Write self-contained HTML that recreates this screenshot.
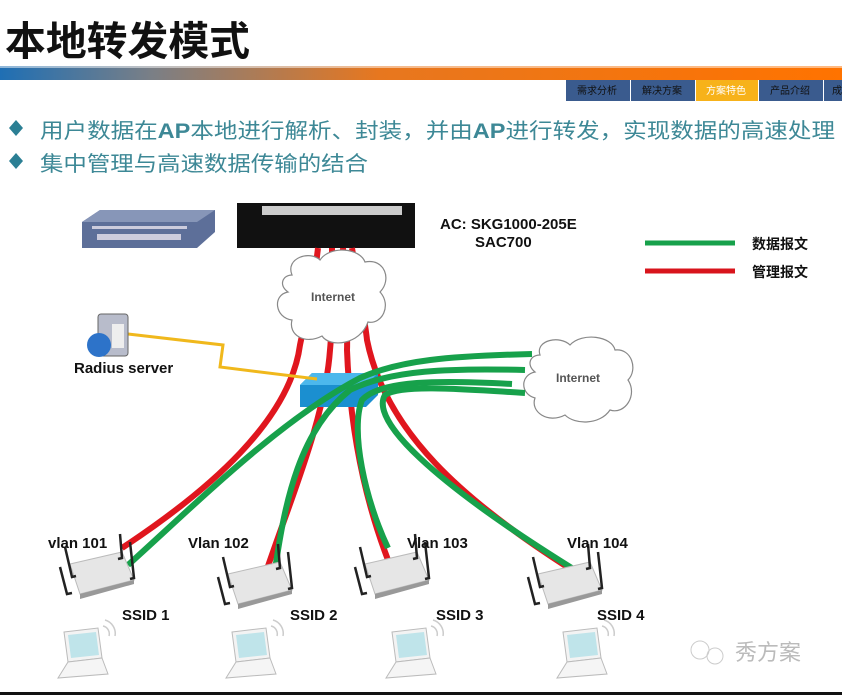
<!DOCTYPE html>
<html><head><meta charset="utf-8"><style>
body{margin:0;width:842px;height:695px;overflow:hidden;background:#fff;font-family:"Liberation Sans","Noto Sans CJK SC",sans-serif}
</style></head><body>
<svg width="842" height="695" viewBox="0 0 842 695" xmlns="http://www.w3.org/2000/svg" font-family="Liberation Sans, Noto Sans CJK SC, sans-serif">
<defs>
<linearGradient id="bar" x1="0" x2="1"><stop offset="0" stop-color="#1f6fb4"/><stop offset="0.18" stop-color="#7a7f86"/><stop offset="0.45" stop-color="#e7771f"/><stop offset="1" stop-color="#ff7300"/></linearGradient>
<g id="ap">
<path d="M-30,-8 L22,-20 L34,8 L-20,22 Z" fill="#e6e6e6" stroke="#bbb"/>
<path d="M-20,22 L34,8 L34,12 L-20,27 Z" fill="#999"/>
<path d="M-35,-25 L-28,5 L-24,4 M-40,-5 L-33,22 L-28,21 M20,-38 L22,-14 L18,-13 M30,-30 L34,6 L30,7" stroke="#222" stroke-width="2.5" fill="none"/>
</g>
<g id="lap">
<path d="M8,0 L42,-4 L46,26 L12,30 Z" fill="#f3f3f3" stroke="#bbb"/>
<path d="M12,3 L40,0 L43,23 L15,26 Z" fill="#bfe4ea"/>
<path d="M12,30 L46,26 L52,42 L2,46 Z" fill="#f5f5f5" stroke="#bbb"/>
<path d="M47,-6 A8,8 0 0 1 53,4 M49,-12 A14,14 0 0 1 59,4" stroke="#ccc" stroke-width="1.5" fill="none"/>
</g>
</defs>
<text x="5" y="55" font-size="40" font-weight="bold" fill="#111" textLength="245" lengthAdjust="spacingAndGlyphs">本地转发模式</text>
<rect x="0" y="66" width="842" height="14" fill="url(#bar)"/>
<rect x="0" y="66" width="842" height="2" fill="#fff" opacity="0.5"/>
<g font-size="10" fill="#fff">
<rect x="566" y="80" width="64" height="21" fill="#3a5b8e"/><text x="577" y="94" fill="#111">需求分析</text>
<rect x="631" y="80" width="64" height="21" fill="#3a5b8e"/><text x="642" y="94" fill="#111">解决方案</text>
<rect x="696" y="80" width="62" height="21" fill="#f7b21a"/><text x="706" y="94">方案特色</text>
<rect x="759" y="80" width="64" height="21" fill="#3a5b8e"/><text x="770" y="94" fill="#111">产品介绍</text>
<rect x="824" y="80" width="18" height="21" fill="#3a5b8e"/><text x="832" y="94" fill="#111">成</text>
</g>
<g font-size="21" fill="#3d8896">
<path d="M16,120 L23,128 L16,136 L9,128 Z" fill="#2b7f94"/>
<text x="40" y="138" textLength="795" lengthAdjust="spacingAndGlyphs">用户数据在<tspan font-weight="bold">AP</tspan>本地进行解析、封装，并由<tspan font-weight="bold">AP</tspan>进行转发，实现数据的高速处理</text>
<path d="M16,153 L23,161 L16,169 L9,161 Z" fill="#2b7f94"/>
<text x="40" y="171" textLength="328" lengthAdjust="spacingAndGlyphs">集中管理与高速数据传输的结合</text>
</g>
<path d="M82,222 L100,210 L215,210 L215,232 L197,248 L82,248 Z" fill="#5d6f99"/>
<path d="M82,222 L100,210 L215,210 L197,222 Z" fill="#8796b8"/>
<rect x="92" y="226" width="95" height="3" fill="#ccd"/><rect x="97" y="234" width="84" height="6" fill="#ccd"/>
<rect x="237" y="203" width="178" height="45" fill="#111"/>
<rect x="262" y="206" width="140" height="9" fill="#ccc"/>
<g stroke="#e0161e" stroke-width="6" fill="none">
<path d="M318,248 C312,300 305,320 300,345 C290,420 210,490 122,548"/>
<path d="M332,248 C332,300 332,330 330,350 C325,420 290,500 265,575"/>
<path d="M343,248 C345,300 348,330 347,350 C350,430 365,500 388,560"/>
<path d="M352,248 C360,300 365,320 367,340 C385,430 460,500 580,575"/>
</g>
<g fill="#fff" stroke="#888" stroke-width="1.2">
<path d="M292,275 C285,258 310,250 320,260 C330,245 360,248 365,262 C385,258 392,280 380,292 C392,305 382,325 368,322 C360,345 330,348 322,336 C305,345 288,335 292,320 C275,318 272,295 288,292 C278,285 283,275 292,275 Z"/>
<path d="M540,355 C535,340 560,335 570,345 C582,332 612,336 615,350 C632,348 638,370 628,380 C638,395 625,415 610,410 C600,425 575,425 565,415 C548,424 530,412 535,398 C520,394 520,375 535,372 C526,365 530,355 540,355 Z"/>
</g>
<text x="311" y="301" font-size="12" font-weight="bold" fill="#555">Internet</text>
<text x="556" y="382" font-size="12" font-weight="bold" fill="#555">Internet</text>
<path d="M300,385 L312,373 L378,373 L378,395 L366,407 L300,407 Z" fill="#1b8fd0"/>
<path d="M300,385 L312,373 L378,373 L366,385 Z" fill="#4cb8ec"/>
<polyline points="128,334 223,345 220,367 317,379" stroke="#f0b81c" stroke-width="3" fill="none"/>
<rect x="98" y="314" width="30" height="42" rx="3" fill="#b8bccb" stroke="#666"/>
<rect x="112" y="324" width="12" height="24" fill="#eee"/>
<circle cx="99" cy="345" r="12" fill="#2d73c9"/>
<text x="74" y="373" font-size="15" font-weight="bold" fill="#111">Radius server</text>
<g stroke="#17a14b" stroke-width="6" fill="none">
<path d="M532,354 C450,356 400,360 360,378 C280,420 200,500 128,565"/>
<path d="M525,370 C450,368 390,370 350,390 C300,430 285,500 275,570"/>
<path d="M512,384 C440,380 380,380 362,400 C350,430 365,500 388,548"/>
<path d="M525,393 C450,388 400,385 385,395 C370,420 430,480 575,570"/>
</g>
<use href="#ap" x="100" y="572"/>
<use href="#ap" x="258" y="582"/>
<use href="#ap" x="395" y="572"/>
<use href="#ap" x="568" y="582"/>
<use href="#lap" x="56" y="632"/>
<use href="#lap" x="224" y="632"/>
<use href="#lap" x="384" y="632"/>
<use href="#lap" x="555" y="632"/>
<g font-size="15" font-weight="bold" fill="#111">
<text x="440" y="229">AC: SKG1000-205E</text>
<text x="475" y="247">SAC700</text>
<text x="752" y="249" font-size="14">数据报文</text>
<text x="752" y="277" font-size="14">管理报文</text>
<text x="48" y="548">vlan 101</text>
<text x="188" y="548">Vlan 102</text>
<text x="407" y="548">Vlan 103</text>
<text x="567" y="548">Vlan 104</text>
<text x="122" y="620">SSID 1</text>
<text x="290" y="620">SSID 2</text>
<text x="436" y="620">SSID 3</text>
<text x="597" y="620">SSID 4</text>
</g>
<line x1="645" y1="243" x2="735" y2="243" stroke="#17a14b" stroke-width="5"/>
<line x1="645" y1="271" x2="735" y2="271" stroke="#d8141c" stroke-width="5"/>
<text x="735" y="660" font-size="22" fill="#bbb">秀方案</text>
<circle cx="700" cy="650" r="9" fill="none" stroke="#ccc"/><circle cx="715" cy="656" r="8" fill="none" stroke="#ccc"/>
<rect x="0" y="692" width="842" height="3" fill="#111"/>
</svg>
</body></html>
